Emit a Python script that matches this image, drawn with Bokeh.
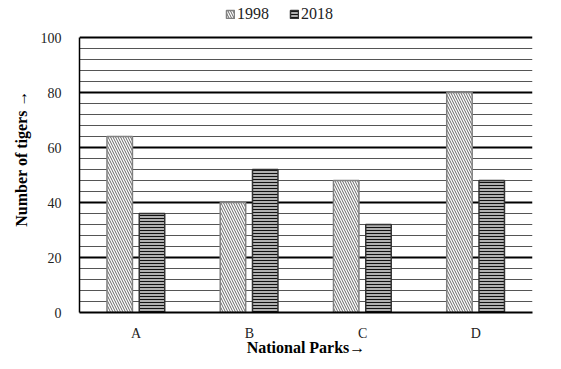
from bokeh.plotting import figure
from bokeh.models import ColumnDataSource, FixedTicker, Legend, LegendItem, FactorRange, Range1d
from bokeh.transform import dodge
from bokeh.embed import file_html
from bokeh.resources import INLINE

parks = ["A", "B", "C", "D"]
tigers_1998 = [64, 40, 48, 80]
tigers_2018 = [36, 52, 32, 48]
y_ticks = [0, 20, 40, 60, 80, 100]
y_minor_ticks = [v for v in range(4, 100, 4) if v % 20 != 0]

src = ColumnDataSource(dict(park=parks, y1998=tigers_1998, y2018=tigers_2018))

FONT = "Liberation Serif"

p = figure(x_range=FactorRange(*parks), y_range=Range1d(0, 112), width=553, height=367,
           output_backend="svg", toolbar_location=None,
           min_border_left=79, min_border_right=21, min_border_top=4, min_border_bottom=55)

r1 = p.vbar(x=dodge("park", -0.145, range=p.x_range), top="y1998", width=0.225, source=src,
            fill_color="white", line_color="#808080", line_width=1.5,
            hatch_pattern="\\", hatch_color="#666666", hatch_scale=5, hatch_weight=1)
r2 = p.vbar(x=dodge("park", 0.14, range=p.x_range), top="y2018", width=0.225, source=src,
            fill_color="#b0b0b0", line_color="#333333", line_width=1.5,
            hatch_pattern="-", hatch_color="#111111", hatch_scale=3, hatch_weight=1)

ticker = FixedTicker(ticks=y_ticks, minor_ticks=y_minor_ticks)
p.yaxis.ticker = ticker
p.ygrid.ticker = ticker
p.ygrid.grid_line_color = "black"
p.ygrid.grid_line_width = 2
p.ygrid.minor_grid_line_color = "#555555"
p.ygrid.minor_grid_line_width = 1
p.ygrid.level = "underlay"
p.xgrid.grid_line_color = None
p.outline_line_color = None
p.background_fill_color = "white"
p.yaxis.bounds = (0, 100)

for ax in (p.xaxis[0], p.yaxis[0]):
    ax.major_tick_line_color = None
    ax.minor_tick_line_color = None
    ax.major_label_text_font = FONT
    ax.major_label_text_font_size = "14px"
    ax.major_label_text_color = "#222222"
    ax.axis_label_text_font = FONT
    ax.axis_label_text_font_size = "16px"
    ax.axis_label_text_font_style = "bold"
    ax.axis_label_text_color = "black"
p.yaxis.axis_line_color = "black"
p.yaxis.axis_line_width = 1.5
p.xaxis.axis_line_color = "black"
p.xaxis.axis_line_width = 2
p.yaxis.axis_label = "Number of tigers \u2192"
p.xaxis.axis_label = "National Parks\u2192"
p.yaxis.major_label_standoff = 12
p.yaxis.axis_label_standoff = 8
p.xaxis.major_label_standoff = 7
p.xaxis.axis_label_standoff = -5

legend = Legend(items=[LegendItem(label="1998", renderers=[r1]),
                       LegendItem(label="2018", renderers=[r2])],
                orientation="horizontal", location=(146, 289),
                label_text_font=FONT, label_text_font_size="16px",
                label_text_color="#222222",
                glyph_width=10, glyph_height=10, spacing=20, padding=0, margin=0,
                label_standoff=2, label_height=14,
                border_line_color=None, background_fill_alpha=0)
p.add_layout(legend, "center")

open("out.html", "w").write(file_html(p, INLINE))
